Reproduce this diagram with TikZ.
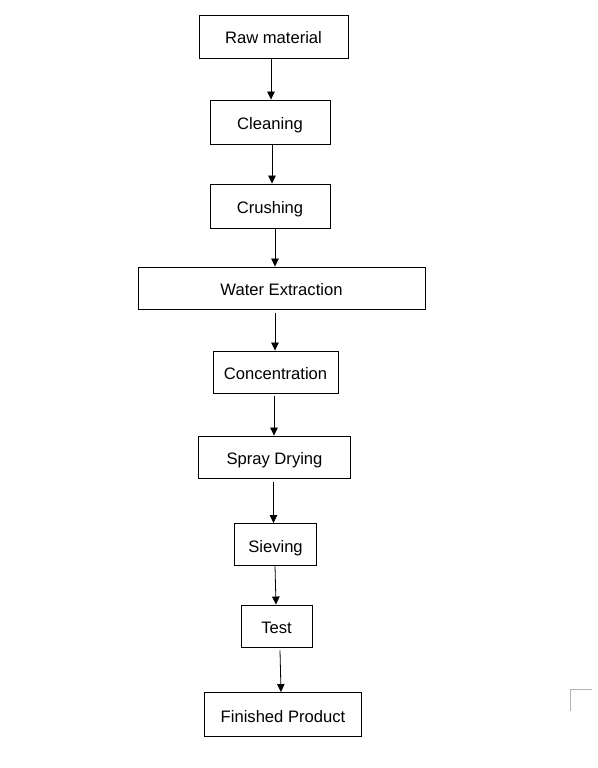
\documentclass[tikz,border=0pt]{standalone}
\usepackage{fontspec}
\setmainfont{Liberation Sans}
\usetikzlibrary{arrows.meta}

\begin{document}
\begin{tikzpicture}[x=1pt, y=-1pt, line cap=butt,
    stage/.style={draw, line width=0.9pt, inner sep=0pt, minimum height=42pt,
      text height=16pt, text depth=1pt, font=\fontsize{16.6}{19}\selectfont},
    flow/.style={line width=0.8pt, -{Triangle[length=8pt,width=7.5pt]}}]

  \useasboundingbox (0,0) rectangle (597,768);

  \node[stage, minimum width=149pt, minimum height=43pt] (raw) at (273.5,36.5) {Raw material};
  \node[stage, minimum width=120pt, minimum height=44pt] (clean) at (270,122) {Cleaning};
  \node[stage, minimum width=120pt, minimum height=44pt] (crush) at (270,206) {Crushing};
  \node[stage, minimum width=287pt] (water) at (281.5,288) {Water Extraction};
  \node[stage, minimum width=125pt] (conc) at (275.5,372) {Concentration};
  \node[stage, minimum width=152pt] (spray) at (274.5,457) {Spray Drying};
  \node[stage, minimum width=82pt] (sieve) at (275.5,544.5) {Sieving};
  \node[stage, minimum width=71pt] (test) at (276.5,626) {Test};
  \node[stage, minimum width=157pt, minimum height=44pt] (final) at (283,714.5) {Finished Product};

  \draw[flow] (raw.south -| 271,0) -- (clean.north -| 271,0);
  \draw[flow] (clean.south -| 272,0) -- (crush.north -| 272,0);
  \draw[flow] (crush.south -| 275,0) -- (water.north -| 275,0);
  \draw[flow] ([yshift=-4pt]water.south -| 275,0) -- (conc.north -| 275,0);
  \draw[flow] ([yshift=-3pt]conc.south -| 274,0) -- (spray.north -| 274,0);
  \draw[flow] ([yshift=-4pt]spray.south -| 273.5,0) -- (sieve.north -| 273.5,0);
  \draw[flow] (sieve.south -| 275,0) -- (test.north -| 276,0);
  \draw[flow] ([yshift=-3pt]test.south -| 280,0) -- (final.north -| 281,0);

  % page corner mark
  \coordinate (corner) at (570.5,689.5);
  \draw[gray!60, line width=0.8pt] (592,689.5) -- (corner) -- (570.5,711);

\end{tikzpicture}
\end{document}
